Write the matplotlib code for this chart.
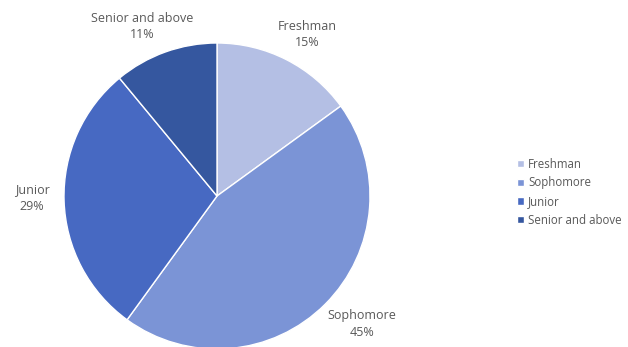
import matplotlib.pyplot as plt

categories = ['Freshman', 'Sophomore', 'Junior', 'Senior and above']
shares = [15, 45, 29, 11]
colors = ['#b4bfe4', '#7b94d6', '#4769c2', '#35579f']

plt.rcParams['font.family'] = ['Open Sans', 'DejaVu Sans']

fig = plt.figure(figsize=(6.28, 3.47), dpi=100)
W, H = 628, 347

# pie sits at centre (217,196) px with radius ~153 px, bottom slightly clipped
ax = fig.add_axes([64 / W, (347 - 349) / H, 306 / W, 306 / H])
wedges, _ = ax.pie(shares, colors=colors, startangle=90, counterclock=False,
                   radius=1, wedgeprops=dict(edgecolor='white', linewidth=1))
ax.set_xlim(-1, 1)
ax.set_ylim(-1, 1)
ax.set_aspect('equal')
ax.axis('off')

# data labels (category name + percentage), positions in pixels
label_pos = [(307, 35), (362, 324), (32, 198), (142, 26)]
for name, val, (px, py) in zip(categories, shares, label_pos):
    fig.text(px / W, 1 - py / H, f'{name}\n{val}%', ha='center', va='center',
             fontsize=9, color='#595959', linespacing=1.3)

leg = fig.legend(wedges, categories, loc='upper left',
                 bbox_to_anchor=(512 / W, 1 - 153 / H), frameon=False,
                 fontsize=8.3, handlelength=0.6, handleheight=0.6,
                 handletextpad=0.4, labelspacing=0.5, borderaxespad=0)
for t in leg.get_texts():
    t.set_color('#595959')

fig.savefig('out.png', dpi=100)
